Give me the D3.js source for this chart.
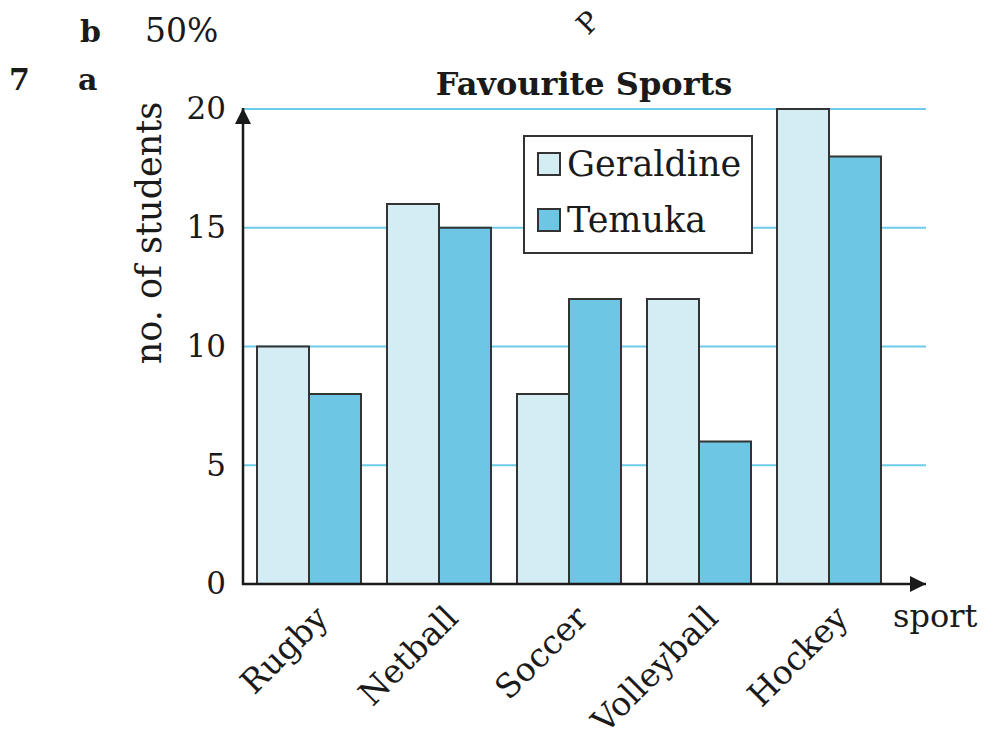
<!DOCTYPE html>
<html>
<meta charset="utf-8" />
<head>
<title>Favourite Sports</title>
<style>
body { margin: 0; background: #fff; }
svg text { font-family: "DejaVu Serif", "Liberation Serif", serif; fill: #1a1a1a; }
</style>
<script src="https://cdn.jsdelivr.net/npm/d3@7"></script>
</head>
<body>
<svg class="chart" width="986" height="738"></svg>
<script>
var sports = ["Rugby", "Netball", "Soccer", "Volleyball", "Hockey"];
var seriesNames = ["Geraldine", "Temuka"];
var geraldine = [10, 16, 8, 12, 20];
var temuka = [8, 15, 12, 6, 18];
var yTicks = [0, 5, 10, 15, 20];

var colors = { Geraldine: "#d4ecf3", Temuka: "#6cc6e4" };
var serif = "DejaVu Serif, Liberation Serif, serif";

var svg = d3.select(".chart");

var x = d3.scaleBand().domain(sports).range([244, 894]).paddingInner(0.2).paddingOuter(0.1);
var xs = d3.scaleBand().domain(seriesNames).range([0, x.bandwidth()]);
var y = d3.scaleLinear().domain([0, 20]).range([584, 109]);

// header text
svg.append("text").attr("x", 80).attr("y", 42).attr("font-size", 30).attr("font-weight", "bold").text("b");
svg.append("text").attr("x", 145).attr("y", 42).attr("font-size", 33).text("50%");
svg.append("text").attr("x", 9).attr("y", 90).attr("font-size", 30).attr("font-weight", "bold").text("7");
svg.append("text").attr("x", 78).attr("y", 90).attr("font-size", 30).attr("font-weight", "bold").text("a");
svg.append("text").attr("transform", "translate(588,36) rotate(-45)")
  .attr("font-size", 28).text("P");

// gridlines
svg.append("g").selectAll("line").data(yTicks.filter(function(d){ return d > 0; }))
  .enter().append("line")
  .attr("x1", 244).attr("x2", 926)
  .attr("y1", function(d){ return y(d); }).attr("y2", function(d){ return y(d); })
  .attr("stroke", "#6ccbe8").attr("stroke-width", 2);

// bars
var rows = sports.map(function(s, i){ return { sport: s, Geraldine: geraldine[i], Temuka: temuka[i] }; });
var groups = svg.append("g").selectAll("g").data(rows).enter().append("g")
  .attr("transform", function(d){ return "translate(" + x(d.sport) + ",0)"; });
groups.selectAll("rect").data(function(d){ return seriesNames.map(function(k){ return { key: k, value: d[k] }; }); })
  .enter().append("rect")
  .attr("x", function(d){ return xs(d.key); })
  .attr("width", xs.bandwidth())
  .attr("y", function(d){ return y(d.value); })
  .attr("height", function(d){ return y(0) - y(d.value); })
  .attr("fill", function(d){ return colors[d.key]; })
  .attr("stroke", "#333").attr("stroke-width", 2);

// axes with arrows
var defs = svg.append("defs");
defs.append("marker").attr("id", "arrow").attr("viewBox", "0 0 10 10")
  .attr("refX", 10).attr("refY", 5).attr("markerWidth", 22).attr("markerHeight", 16)
  .attr("markerUnits", "userSpaceOnUse").attr("orient", "auto")
  .append("path").attr("d", "M0,0 L10,5 L0,10 Z").attr("fill", "#1a1a1a");

svg.append("line").attr("x1", 243).attr("x2", 243).attr("y1", y(0) + 1).attr("y2", 108)
  .attr("stroke", "#1a1a1a").attr("stroke-width", 2.5).attr("marker-end", "url(#arrow)");
svg.append("line").attr("x1", 242).attr("x2", 926).attr("y1", y(0)).attr("y2", y(0))
  .attr("stroke", "#1a1a1a").attr("stroke-width", 2.5).attr("marker-end", "url(#arrow)");

// y tick labels
var yAxis = d3.axisLeft(y).tickValues(yTicks).tickSize(0).tickPadding(17);
var yg = svg.append("g").attr("transform", "translate(243,0)").call(yAxis);
yg.select(".domain").remove();
yg.selectAll("text").attr("font-size", 31).attr("font-family", serif).attr("fill", "#1a1a1a");

// x tick labels
var xAxis = d3.axisBottom(x).tickSize(0);
var xg = svg.append("g").attr("transform", "translate(0," + y(0) + ")").call(xAxis);
xg.select(".domain").remove();
xg.selectAll("text")
  .attr("font-size", 33).attr("font-family", serif).attr("fill", "#1a1a1a")
  .attr("text-anchor", "end").attr("dy", 0).attr("y", 0)
  .attr("transform", "translate(21,36) rotate(-45)");

// axis titles
svg.append("text").attr("transform", "translate(161,233) rotate(-90)").attr("text-anchor", "middle")
  .attr("font-size", 35).text("no. of students");
svg.append("text").attr("x", 893).attr("y", 627).attr("font-size", 32).text("sport");

// title
svg.append("text").attr("x", 584).attr("y", 95).attr("text-anchor", "middle")
  .attr("font-size", 32).attr("font-weight", "bold").text("Favourite Sports");

// legend
var legend = svg.append("g").attr("transform", "translate(524,136)");
legend.append("rect").attr("width", 228).attr("height", 117)
  .attr("fill", "#fff").attr("stroke", "#333").attr("stroke-width", 2);
var items = legend.selectAll("g").data(seriesNames).enter().append("g")
  .attr("transform", function(d, i){ return "translate(14," + (17 + i * 56) + ")"; });
items.append("rect").attr("width", 22).attr("height", 22)
  .attr("fill", function(d){ return colors[d]; }).attr("stroke", "#333").attr("stroke-width", 2);
items.append("text").attr("x", 29).attr("y", 23).attr("font-size", 35).text(function(d){ return d; });
</script>
</body>
</html>
